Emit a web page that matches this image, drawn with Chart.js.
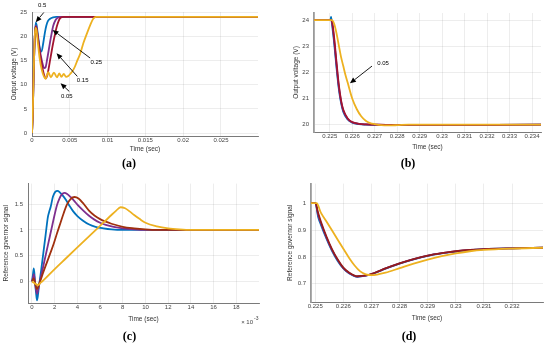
<!DOCTYPE html>
<html><head><meta charset="utf-8">
<script src="https://cdn.jsdelivr.net/npm/chart.js@4.4.0/dist/chart.umd.min.js"></script>
<style>
html,body{margin:0;padding:0;background:#fff;}
#wrap{position:relative;width:550px;height:350px;background:#fff;}
.p{position:absolute;width:275px;height:175px;}
</style></head><body>
<div id="wrap">
<div class="p" style="left:0;top:0"><canvas id="ca" width="275" height="175"></canvas></div>
<div class="p" style="left:275px;top:0"><canvas id="cb" width="275" height="175"></canvas></div>
<div class="p" style="left:0;top:175px"><canvas id="cc" width="275" height="175"></canvas></div>
<div class="p" style="left:275px;top:175px"><canvas id="cd" width="275" height="175"></canvas></div>
</div>
<script>
// ---------- colours ----------
const cBlue = '#0072BD', cPurple = '#7E2F8E', cRed = '#A2142F', cOrange = '#EDB120';
const cBrown = '#A0300E', cMaroon = '#941C1C';

// ---------- panel (a): output voltage, start-up ----------
const aXTicks = [0, 0.005, 0.01, 0.015, 0.02, 0.025];
const aYTicks = [0, 5, 10, 15, 20, 25];
const aTimeBlue = [0,0.0001,0.0002,0.0003,0.0004,0.0005,0.0006,0.0008,0.001,0.00125,0.0015,0.0017,0.0019,0.0021,0.0024,0.0028,0.0032,0.0299];
const aVoltBlue = [0,4,11,17,20.8,22.8,22.4,20,17.8,16.8,18.7,20.7,22.2,23.1,23.6,23.9,24,24];
const aTimePurple = [0,0.0001,0.0002,0.0003,0.0004,0.0005,0.0006,0.0008,0.001,0.0012,0.0014,0.0016,0.0018,0.002,0.0022,0.0024,0.0026,0.0028,0.0031,0.0034,0.0038,0.0299];
const aVoltPurple = [0,4,11,17,20.8,22.2,21.8,19.5,17.5,15.7,14.3,13.4,13.6,15.2,17,18.9,20.6,22.1,23.3,23.8,24,24];
const aTimeRed = [0,0.0001,0.0002,0.0003,0.0004,0.0005,0.0006,0.0008,0.001,0.0012,0.0014,0.0016,0.0018,0.002,0.0022,0.0024,0.0026,0.0028,0.003,0.0033,0.0037,0.0042,0.0299];
const aVoltRed = [0,4,11,17,20.8,22,21.6,19.4,17,15,13.3,12,11.3,11.8,13.3,15.1,16.9,18.6,20.1,22.1,23.7,24,24];
const aTimeOrange = [0,0.0001,0.0002,0.0003,0.0004,0.0005,0.0006,0.0008,0.001,0.0013,0.0016,0.0018,0.00215,0.0025,0.0029,0.0033,0.0036,0.0039,0.0042,0.0045,0.0048,0.0051,0.0054,0.0057,0.006,0.0064,0.0068,0.0073,0.0077,0.0081,0.0085,0.0299];
const aVoltOrange = [0,4,11,17,20.8,21.7,21.2,18.3,15.6,13,11.6,11.2,12.6,11.5,12.5,11.5,12.3,11.6,12.2,11.6,11.8,12.3,12.9,13.8,15,16.5,18.6,20.7,22.3,23.6,24,24];
const aArrowLabels = ['0.5', '0.25', '0.15', '0.05'];
const aArrowHeads = [[0.00049,22.9],[0.00272,21.3],[0.00325,16.5],[0.00378,10.3]];
const aArrowTails = [[0.00156,24.9],[0.00769,15.5],[0.0060,11.7],[0.00493,8.6]];
const aArrowText  = [[0.00133,26.3],[0.0085,14.6],[0.0067,10.9],[0.0046,7.6]];

// ---------- panel (b): output voltage, load step ----------
const bXTicks = [0.225,0.226,0.227,0.228,0.229,0.23,0.231,0.232,0.233,0.234];
const bYTicks = [20, 21, 22, 23, 24];
const bTimeBlue = [0.2243,0.22503,0.22506,0.2251,0.2252,0.2253,0.2254,0.2255,0.2256,0.2258,0.226,0.2263,0.2266,0.227,0.2275,0.2349];
const bVoltBlue = [24,24,24.12,23.85,23.1,22.2,21.4,20.85,20.5,20.2,20.08,20.02,20.0,19.99,19.99,20];
const bTimeRed = [0.2243,0.22505,0.2251,0.2252,0.2253,0.2254,0.2255,0.2256,0.2258,0.226,0.2263,0.2266,0.227,0.2275,0.2349];
const bVoltPurple = [24,24,23.92,23.2,22.3,21.48,20.9,20.54,20.22,20.09,20.03,20.01,20,19.99,20];
const bVoltRed = [24,24,23.95,23.3,22.4,21.55,20.95,20.58,20.24,20.1,20.03,20.01,20,19.99,20];
const bTimeOrange = [0.2243,0.2251,0.2252,0.2253,0.2254,0.2255,0.2256,0.2257,0.2258,0.226,0.2262,0.2264,0.2266,0.2268,0.227,0.2273,0.2276,0.228,0.2285,0.2349];
const bVoltOrange = [24,24,23.85,23.5,23.05,22.6,22.25,21.9,21.6,21.0,20.6,20.32,20.15,20.06,20.02,19.98,19.97,19.98,20,20];
const bArrowLabels = ['0.05'];
const bArrowHeads = [[0.2259,21.58]];
const bArrowTails = [[0.22688,22.24]];
const bArrowText  = [[0.22737,22.35]];

// ---------- panel (c): reference governor signal, start-up ----------
const cXTicks = [0,0.002,0.004,0.006,0.008,0.01,0.012,0.014,0.016,0.018];
const cYTicks = [0, 0.5, 1, 1.5];
const cTimeBlue = [0,0.00008,0.00016,0.00025,0.00035,0.00045,0.0006,0.0008,0.001,0.0012,0.0014,0.0015,0.00165,0.00185,0.00205,0.00225,0.00245,0.0027,0.003,0.0033,0.0036,0.004,0.0045,0.005,0.0056,0.0063,0.007,0.008,0.01,0.02];
const cSigBlue = [0,0.12,0.25,0.05,-0.2,-0.37,-0.12,0.2,0.55,0.9,1.25,1.34,1.45,1.65,1.74,1.76,1.73,1.67,1.58,1.47,1.37,1.27,1.18,1.11,1.06,1.03,1.01,1.0,1.0,1.0];
const cTimePurple = [0,0.00008,0.00016,0.00025,0.00035,0.00045,0.0006,0.0008,0.001,0.0012,0.0014,0.0016,0.0018,0.002,0.0022,0.0024,0.0026,0.00285,0.0031,0.0034,0.0037,0.004,0.0045,0.005,0.0055,0.006,0.0065,0.0072,0.008,0.009,0.01,0.02];
const cSigPurple = [0,0.06,0.14,0.02,-0.15,-0.24,-0.1,0.1,0.3,0.5,0.7,0.9,1.1,1.3,1.48,1.6,1.68,1.72,1.7,1.64,1.57,1.49,1.38,1.28,1.2,1.14,1.1,1.06,1.03,1.01,1.0,1.0];
const cTimeRed = [0,0.00008,0.00016,0.00025,0.00035,0.00045,0.0006,0.0008,0.001,0.0013,0.0016,0.0019,0.0022,0.0025,0.0028,0.0031,0.0034,0.00375,0.0041,0.0045,0.005,0.0055,0.006,0.0065,0.007,0.008,0.009,0.01,0.011,0.02];
const cSigRed = [0,0.03,0.06,-0.02,-0.1,-0.15,-0.07,0.05,0.18,0.36,0.54,0.72,0.93,1.13,1.33,1.5,1.6,1.64,1.61,1.52,1.38,1.28,1.21,1.16,1.12,1.06,1.03,1.01,1.0,1.0];
const cTimeOrange = [0,0.0002,0.0004,0.00055,0.0007,0.001,0.002,0.003,0.004,0.005,0.006,0.007,0.0074,0.0078,0.0082,0.0086,0.009,0.0095,0.01,0.011,0.012,0.013,0.014,0.015,0.02];
const cSigOrange = [0,-0.03,-0.06,-0.07,-0.04,0.02,0.24,0.45,0.66,0.87,1.08,1.29,1.37,1.44,1.42,1.36,1.29,1.21,1.14,1.07,1.03,1.01,1.0,1.0,1.0];

// ---------- panel (d): reference governor signal, load step ----------
const dXTicks = [0.225,0.226,0.227,0.228,0.229,0.23,0.231,0.232];
const dYTicks = [0.7, 0.8, 0.9, 1];
const dTime = [0.22485,0.22501,0.2251,0.2252,0.2254,0.2256,0.2258,0.226,0.2262,0.2265,0.2268,0.2271,0.2275,0.228,0.2285,0.229,0.2295,0.23,0.2305,0.231,0.232,0.2331];
const dSigBlue = [1,1,0.95,0.92,0.868,0.822,0.785,0.757,0.739,0.726,0.73,0.739,0.756,0.775,0.791,0.804,0.813,0.82,0.825,0.829,0.832,0.834];
const dSigPurple = [1,1,0.958,0.926,0.872,0.825,0.788,0.758,0.74,0.727,0.73,0.74,0.757,0.776,0.792,0.805,0.814,0.821,0.826,0.829,0.832,0.834];
const dSigRed = [1,1,0.965,0.932,0.876,0.828,0.79,0.76,0.742,0.728,0.731,0.74,0.757,0.776,0.792,0.805,0.814,0.821,0.826,0.829,0.832,0.834];
const dTimeOrange = [0.22485,0.22505,0.2252,0.2254,0.2256,0.2258,0.226,0.2262,0.2264,0.2266,0.2268,0.227,0.2272,0.2275,0.228,0.2285,0.229,0.2295,0.23,0.2305,0.231,0.232,0.2331];
const dSigOrange = [1,1,0.965,0.932,0.898,0.864,0.83,0.797,0.768,0.746,0.735,0.732,0.734,0.741,0.758,0.775,0.79,0.803,0.813,0.821,0.826,0.831,0.834];

// ---------- helpers ----------
const FONT = '"Liberation Sans", Arial, sans-serif';
const TICK_SIZE = 6, TITLE_SIZE = 6.5, CAP_SIZE = 12;
function pts(xs, ys) { return xs.map((x, i) => ({ x: x, y: ys[i] })); }
function fmt(v) { return String(+v.toFixed(4)); }

function overlay(heads, tails, texts, labels, extra) {
  return {
    id: 'overlay',
    afterDatasetsDraw(chart) {
      const ctx = chart.ctx, sx = chart.scales.x, sy = chart.scales.y;
      ctx.save();
      ctx.strokeStyle = '#000'; ctx.fillStyle = '#000'; ctx.lineWidth = 0.9;
      ctx.font = TICK_SIZE + 'px ' + FONT;
      ctx.textAlign = 'center'; ctx.textBaseline = 'middle';
      labels.forEach((lab, i) => {
        const x0 = sx.getPixelForValue(tails[i][0]), y0 = sy.getPixelForValue(tails[i][1]);
        const x1 = sx.getPixelForValue(heads[i][0]), y1 = sy.getPixelForValue(heads[i][1]);
        const ang = Math.atan2(y1 - y0, x1 - x0), L = 6, W = 2.6;
        const bx = x1 - L * Math.cos(ang), by = y1 - L * Math.sin(ang);
        ctx.beginPath(); ctx.moveTo(x0, y0); ctx.lineTo(bx, by); ctx.stroke();
        ctx.beginPath(); ctx.moveTo(x1, y1);
        ctx.lineTo(bx + W * Math.sin(ang), by - W * Math.cos(ang));
        ctx.lineTo(bx - W * Math.sin(ang), by + W * Math.cos(ang));
        ctx.closePath(); ctx.fill();
        ctx.fillText(lab, sx.getPixelForValue(texts[i][0]), sy.getPixelForValue(texts[i][1]));
      });
      if (extra) extra(chart);
      ctx.restore();
    }
  };
}

function panel(id, c) {
  const capTop = c.capY - CAP_SIZE * 0.6;
  const xH = capTop - c.bottom;
  const n = c.series.length;
  new Chart(document.getElementById(id), {
    type: 'line',
    data: {
      datasets: c.series.map((s, i) => ({
        data: pts(s.x, s.y), borderColor: s.color, borderWidth: 1.8, order: n - i,
        pointRadius: 0, fill: false, cubicInterpolationMode: 'monotone'
      }))
    },
    options: {
      responsive: false, animation: false, devicePixelRatio: 1,
      layout: { padding: { top: c.top, right: 275 - c.right, left: 0, bottom: 175 - capTop - CAP_SIZE * 1.2 } },
      plugins: {
        legend: { display: false }, tooltip: { enabled: false },
        title: { display: true, position: 'bottom', text: c.caption, color: '#000', padding: 0,
                 font: { family: '"Liberation Serif", "Times New Roman", serif', size: CAP_SIZE, weight: 'bold' } }
      },
      scales: {
        x: {
          type: 'linear', min: c.xMin, max: c.xMax,
          afterFit: s => { s.height = xH; },
          afterBuildTicks: s => { s.ticks = c.xTicks.map(v => ({ value: v })); },
          ticks: { font: { family: FONT, size: TICK_SIZE }, color: '#444', padding: 1, maxRotation: 0,
                   autoSkip: false, callback: c.xFmt || fmt },
          grid: { color: 'rgba(0,0,0,0.09)', drawTicks: false, lineWidth: 0.8 },
          border: { color: '#7a7a7a', width: 1 },
          title: { display: true, text: 'Time (sec)', color: '#333', font: { family: FONT, size: TITLE_SIZE },
                   padding: { top: 0, bottom: capTop - c.xTitleY - TITLE_SIZE * 0.6 } }
        },
        y: {
          type: 'linear', min: c.yMin, max: c.yMax,
          afterFit: s => { s.width = c.yW; },
          afterBuildTicks: s => { s.ticks = c.yTicks.map(v => ({ value: v })); },
          ticks: { font: { family: FONT, size: TICK_SIZE }, color: '#444', padding: 5, autoSkip: false, callback: fmt },
          grid: { color: 'rgba(0,0,0,0.09)', drawTicks: false, lineWidth: 0.8 },
          border: { color: c.yAxisColor || '#7a7a7a', width: c.yAxisWidth || 1 },
          title: { display: true, text: c.yTitle, color: '#333', font: { family: FONT, size: TITLE_SIZE },
                   padding: { top: c.yTitleX - TITLE_SIZE * 0.6, bottom: 0 } }
        }
      }
    },
    plugins: [overlay(c.heads || [], c.tails || [], c.texts || [], c.labels || [], c.extra)]
  });
}

panel('ca', {
  caption: '(a)', top: 12, right: 258, bottom: 136, xTitleY: 149, capY: 164, yTitleX: 14, yW: 32,
  xMin: 0, xMax: 0.0299, yMin: -0.6, yMax: 25, xTicks: aXTicks, yTicks: aYTicks, yTitle: 'Output voltage (V)',
  series: [
    { x: aTimeBlue, y: aVoltBlue, color: cBlue },
    { x: aTimePurple, y: aVoltPurple, color: cPurple },
    { x: aTimeRed, y: aVoltRed, color: cRed },
    { x: aTimeOrange, y: aVoltOrange, color: cOrange }
  ],
  heads: aArrowHeads, tails: aArrowTails, texts: aArrowText, labels: aArrowLabels
});

panel('cb', {
  caption: '(b)', top: 13, right: 266, bottom: 132, xTitleY: 147.7, capY: 164, yTitleX: 21, yW: 39,
  yAxisColor: '#9a9a9a', yAxisWidth: 1.8,
  xMin: 0.2243, xMax: 0.2344, yMin: 19.72, yMax: 24.27, xTicks: bXTicks, yTicks: bYTicks, yTitle: 'Output voltage (V)',
  series: [
    { x: bTimeBlue, y: bVoltBlue, color: cBlue },
    { x: bTimeRed, y: bVoltPurple, color: cPurple },
    { x: bTimeRed, y: bVoltRed, color: cRed },
    { x: bTimeOrange, y: bVoltOrange, color: cOrange }
  ],
  heads: bArrowHeads, tails: bArrowTails, texts: bArrowText, labels: bArrowLabels
});

panel('cc', {
  caption: '(c)', top: 7, right: 259, bottom: 128, xTitleY: 144, capY: 161.7, yTitleX: 6, yW: 28,
  xMin: -0.00035, xMax: 0.02, yMin: -0.42, yMax: 1.9, xTicks: cXTicks, yTicks: cYTicks, yTitle: 'Reference governor signal',
  xFmt: v => String(Math.round(v * 1000)),
  series: [
    { x: cTimeBlue, y: cSigBlue, color: cBlue },
    { x: cTimePurple, y: cSigPurple, color: cPurple },
    { x: cTimeRed, y: cSigRed, color: cBrown },
    { x: cTimeOrange, y: cSigOrange, color: cOrange }
  ],
  extra: chart => {
    const ctx = chart.ctx, a = chart.chartArea;
    ctx.fillStyle = '#444'; ctx.textAlign = 'right'; ctx.textBaseline = 'alphabetic';
    ctx.font = TICK_SIZE + 'px ' + FONT;
    ctx.fillText('\u00d7 10', a.right - 6, a.bottom + 21);
    ctx.font = (TICK_SIZE - 1) + 'px ' + FONT;
    ctx.textAlign = 'left';
    ctx.fillText('-3', a.right - 5, a.bottom + 17);
  }
});

panel('cd', {
  caption: '(d)', top: 7, right: 268, bottom: 127, xTitleY: 143.3, capY: 162.3, yTitleX: 15, yW: 36,
  yAxisColor: '#9a9a9a', yAxisWidth: 1.8,
  xMin: 0.22485, xMax: 0.2331, yMin: 0.632, yMax: 1.073, xTicks: dXTicks, yTicks: dYTicks, yTitle: 'Reference governor signal',
  series: [
    { x: dTime, y: dSigBlue, color: cBlue },
    { x: dTime, y: dSigPurple, color: cPurple },
    { x: dTime, y: dSigRed, color: cMaroon },
    { x: dTimeOrange, y: dSigOrange, color: cOrange }
  ]
});
</script>
</body></html>
